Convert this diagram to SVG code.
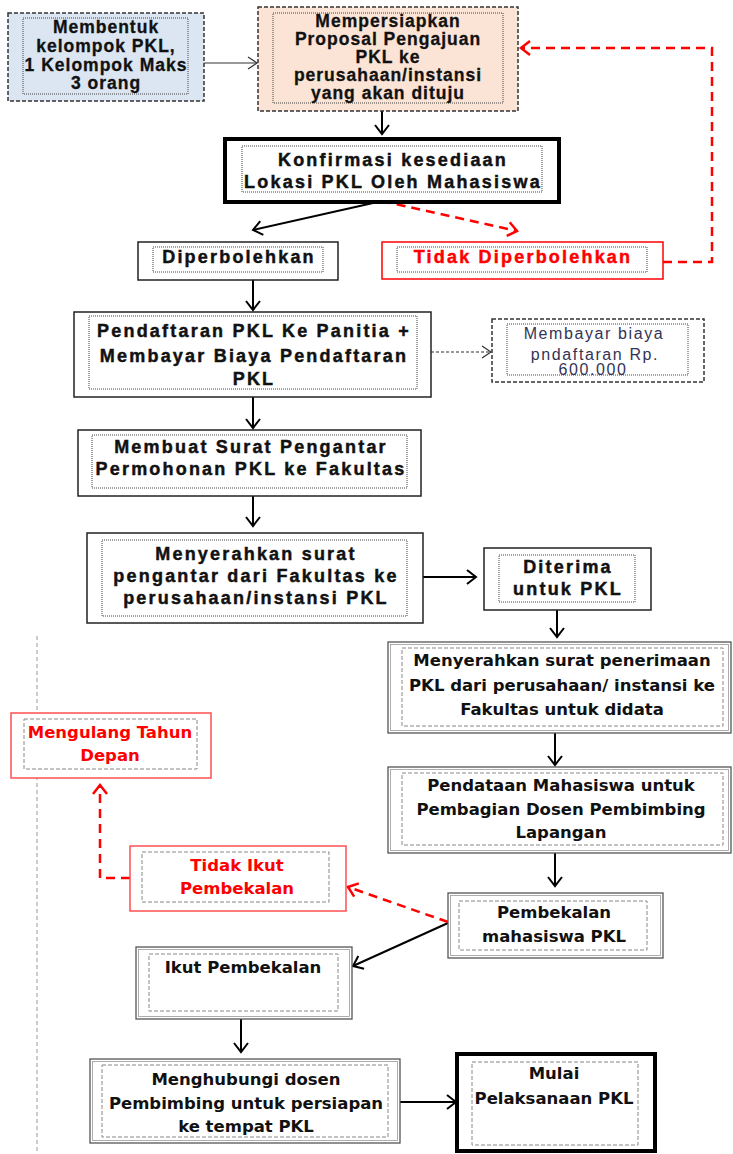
<svg xmlns="http://www.w3.org/2000/svg" width="733" height="1154" viewBox="0 0 733 1154">
<defs>
<style>
.t1{font-family:"Liberation Sans",Arial,sans-serif;font-weight:bold;font-size:17.5px;letter-spacing:1px;fill:#111;stroke:#111;stroke-width:0.3;text-anchor:middle}
.t2{font-family:"Liberation Sans",Arial,sans-serif;font-weight:bold;font-size:18px;letter-spacing:2.2px;fill:#111;stroke:#111;stroke-width:0.45;text-anchor:middle}
.t3{font-family:"DejaVu Sans",Verdana,sans-serif;font-weight:bold;font-size:16.5px;fill:#111;text-anchor:middle}
.tn{font-family:"Liberation Sans",Arial,sans-serif;font-size:16px;letter-spacing:1.6px;fill:#333355;text-anchor:middle}
.red{fill:#ff0000;stroke:#ff0000}
.dashbox{stroke:#333;stroke-width:1.5;stroke-dasharray:4 2}
.dot{fill:none;stroke:#444;stroke-width:1;stroke-dasharray:1 1}
.solid{fill:#fff;stroke:#222;stroke-width:1.5}
.thick{fill:#fff;stroke:#000;stroke-width:4}
.dbl{fill:#fff;stroke:#555;stroke-width:1.3}
.dbl2{fill:none;stroke:#999;stroke-width:0.8}
.gdash{fill:none;stroke:#888;stroke-width:1;stroke-dasharray:4 2}
.redbox{fill:#fff;stroke:#ff0000;stroke-width:1.5}
.redbox2{fill:#fff;stroke:#ff5050;stroke-width:1.5}
.c{stroke:#000;stroke-width:2;fill:none}
.ct{stroke:#333;stroke-width:1.2;fill:none}
.cd{stroke:#333;stroke-width:1;stroke-dasharray:3 2;fill:none}
.cr{stroke:#ff0000;stroke-width:2.5;stroke-dasharray:9 6;fill:none}
</style>
<marker id="ab" markerWidth="14" markerHeight="16" refX="11" refY="8" orient="auto" markerUnits="userSpaceOnUse"><path d="M2,1 L11,8 L2,15" fill="none" stroke="#000" stroke-width="2"/></marker>
<marker id="at" markerWidth="14" markerHeight="14" refX="11" refY="7" orient="auto" markerUnits="userSpaceOnUse"><path d="M2,1 L11,7 L2,13" fill="none" stroke="#333" stroke-width="1.2"/></marker>
<marker id="ar" markerWidth="14" markerHeight="16" refX="11" refY="8" orient="auto" markerUnits="userSpaceOnUse"><path d="M2,1 L11,8 L2,15" fill="none" stroke="#ff0000" stroke-width="2.5"/></marker>
</defs>
<rect width="733" height="1154" fill="#fff"/>
<line x1="37" y1="636" x2="37" y2="1154" stroke="#999" stroke-width="1" stroke-dasharray="4 3"/>

<g id="connectors">
<line class="ct" x1="204" y1="63" x2="257" y2="63" marker-end="url(#at)"/>
<line class="c" x1="382" y1="111" x2="382" y2="134" marker-end="url(#ab)"/>
<line class="c" x1="382" y1="201" x2="253" y2="230" marker-end="url(#ab)"/>
<line class="cr" x1="382" y1="201" x2="517" y2="231" marker-end="url(#ar)"/>
<path class="cr" d="M663,262 H712 V48 H521" marker-end="url(#ar)"/>
<line class="c" x1="253" y1="280" x2="253" y2="310" marker-end="url(#ab)"/>
<line class="cd" x1="431" y1="352" x2="491" y2="352" marker-end="url(#at)"/>
<line class="c" x1="253" y1="397" x2="253" y2="428" marker-end="url(#ab)"/>
<line class="c" x1="253" y1="496" x2="253" y2="526" marker-end="url(#ab)"/>
<line class="c" x1="423" y1="577" x2="476" y2="577" marker-end="url(#ab)"/>
<line class="c" x1="557" y1="610" x2="557" y2="637" marker-end="url(#ab)"/>
<line class="c" x1="555" y1="733" x2="555" y2="765" marker-end="url(#ab)"/>
<line class="c" x1="555" y1="853" x2="555" y2="886" marker-end="url(#ab)"/>
<line class="c" x1="448" y1="923" x2="353" y2="966" marker-end="url(#ab)"/>
<line class="cr" x1="448" y1="922" x2="348" y2="887" marker-end="url(#ar)"/>
<path class="cr" d="M130,878 H100 V785" marker-end="url(#ar)"/>
<line class="c" x1="241" y1="1019" x2="241" y2="1052" marker-end="url(#ab)"/>
<line class="c" x1="400" y1="1102" x2="456" y2="1102" marker-end="url(#ab)"/>
</g>

<g id="n1">
<rect class="dashbox" x="8" y="13" width="196" height="88" fill="#dce6f2"/>
<rect class="dot" x="23" y="18" width="165" height="76"/>
<text class="t1" x="106" y="33">Membentuk</text>
<text class="t1" x="106" y="51.8">kelompok PKL,</text>
<text class="t1" x="106" y="70.6">1 Kelompok Maks</text>
<text class="t1" x="106" y="89.4">3 orang</text>
</g>

<g id="n2">
<rect class="dashbox" x="258" y="7" width="260" height="104" fill="#fbe4d5"/>
<rect class="dot" x="273" y="13" width="230" height="90"/>
<text class="t1" x="388" y="27">Mempersiapkan</text>
<text class="t1" x="388" y="45.1">Proposal Pengajuan</text>
<text class="t1" x="388" y="63.2">PKL ke</text>
<text class="t1" x="388" y="81.3">perusahaan/instansi</text>
<text class="t1" x="388" y="99.4">yang akan dituju</text>
</g>

<g id="n3">
<rect class="thick" x="225" y="139" width="334" height="63"/>
<rect class="dot" x="242" y="146" width="300" height="46"/>
<text class="t2" x="393" y="165.7">Konfirmasi kesediaan</text>
<text class="t2" x="393" y="188">Lokasi PKL Oleh Mahasiswa</text>
</g>

<g id="n4">
<rect class="solid" x="138" y="242" width="200" height="38"/>
<rect class="dot" x="153" y="247" width="170" height="25"/>
<text class="t2" x="239" y="263.3">Diperbolehkan</text>
</g>

<g id="n5">
<rect class="redbox" x="382" y="242" width="281" height="37"/>
<rect class="dot" x="397" y="247" width="250" height="25"/>
<text class="t2 red" x="523" y="263.3">Tidak Diperbolehkan</text>
</g>

<g id="n6">
<rect class="solid" x="74" y="312" width="357" height="85"/>
<rect class="dot" x="89" y="316" width="328" height="73"/>
<text class="t2" x="254" y="336.7">Pendaftaran PKL Ke Panitia +</text>
<text class="t2" x="254" y="361.7">Membayar Biaya Pendaftaran</text>
<text class="t2" x="254" y="385">PKL</text>
</g>

<g id="n7">
<rect class="dashbox" x="492" y="319" width="212" height="63" fill="#fff"/>
<rect class="dot" x="507" y="324" width="181" height="51"/>
<text class="tn" x="594" y="339">Membayar biaya</text>
<text class="tn" x="595" y="360">pndaftaran Rp.</text>
<text class="tn" x="593" y="375">600.000</text>
</g>

<g id="n8">
<rect class="solid" x="78" y="430" width="343" height="66"/>
<rect class="dot" x="92" y="435" width="315" height="53"/>
<text class="t2" x="251" y="453">Membuat Surat Pengantar</text>
<text class="t2" x="251" y="475">Permohonan PKL ke Fakultas</text>
</g>

<g id="n9">
<rect class="solid" x="87" y="533" width="336" height="90"/>
<rect class="dot" x="102" y="540" width="305" height="76"/>
<text class="t2" x="256" y="559.5">Menyerahkan surat</text>
<text class="t2" x="256" y="581.5">pengantar dari Fakultas ke</text>
<text class="t2" x="256" y="603.5">perusahaan/instansi PKL</text>
</g>

<g id="n10">
<rect class="solid" x="484" y="548" width="167" height="62"/>
<rect class="dot" x="499" y="555" width="136" height="47"/>
<text class="t2" x="568" y="572.5">Diterima</text>
<text class="t2" x="568" y="595">untuk PKL</text>
</g>

<g id="n11">
<rect class="dbl" x="388" y="642" width="343" height="91"/>
<rect class="dbl2" x="390.5" y="644.5" width="338" height="86"/>
<rect class="gdash" x="402" y="648" width="321" height="78"/>
<text class="t3" x="562" y="666">Menyerahkan surat penerimaan</text>
<text class="t3" x="562" y="691">PKL dari perusahaan/ instansi ke</text>
<text class="t3" x="562" y="715">Fakultas untuk didata</text>
</g>

<g id="n12">
<rect class="dbl" x="388" y="767" width="343" height="86"/>
<rect class="dbl2" x="390.5" y="769.5" width="338" height="81"/>
<rect class="gdash" x="402" y="773" width="321" height="72"/>
<text class="t3" x="561" y="791">Pendataan Mahasiswa untuk</text>
<text class="t3" x="561" y="815">Pembagian Dosen Pembimbing</text>
<text class="t3" x="561" y="838">Lapangan</text>
</g>

<g id="n13">
<rect class="dbl" x="448" y="893" width="215" height="65"/>
<rect class="dbl2" x="450.5" y="895.5" width="210" height="60"/>
<rect class="gdash" x="459" y="901" width="188" height="49"/>
<text class="t3" x="554" y="918">Pembekalan</text>
<text class="t3" x="554" y="941.5">mahasiswa PKL</text>
</g>

<g id="n14">
<rect class="redbox2" x="130" y="846" width="216" height="65"/>
<rect class="gdash" x="142" y="852" width="187" height="50"/>
<text class="t3" x="237" y="871" fill="#ff0000" style="fill:#ff0000">Tidak Ikut</text>
<text class="t3" x="237" y="894" style="fill:#ff0000">Pembekalan</text>
</g>

<g id="n15">
<rect class="redbox2" x="11" y="713" width="200" height="65"/>
<rect class="gdash" x="24" y="719" width="173" height="50"/>
<text class="t3" x="110" y="738" style="fill:#ff0000">Mengulang Tahun</text>
<text class="t3" x="110" y="761" style="fill:#ff0000">Depan</text>
</g>

<g id="n16">
<rect class="dbl" x="136" y="947" width="216" height="72"/>
<rect class="dbl2" x="138.5" y="949.5" width="211" height="67"/>
<rect class="gdash" x="149" y="954" width="189" height="57"/>
<text class="t3" x="243" y="973">Ikut Pembekalan</text>
</g>

<g id="n17">
<rect class="dbl" x="90" y="1059" width="310" height="84"/>
<rect class="dbl2" x="92.5" y="1061.5" width="305" height="79"/>
<rect class="gdash" x="102" y="1065" width="286" height="72"/>
<text class="t3" x="246" y="1085">Menghubungi dosen</text>
<text class="t3" x="246" y="1109">Pembimbing untuk persiapan</text>
<text class="t3" x="246" y="1132">ke tempat PKL</text>
</g>

<g id="n18">
<rect class="thick" x="457" y="1054" width="198" height="97"/>
<rect class="gdash" x="472" y="1062" width="166" height="83"/>
<text class="t3" x="554" y="1079">Mulai</text>
<text class="t3" x="554" y="1104">Pelaksanaan PKL</text>
</g>
</svg>
